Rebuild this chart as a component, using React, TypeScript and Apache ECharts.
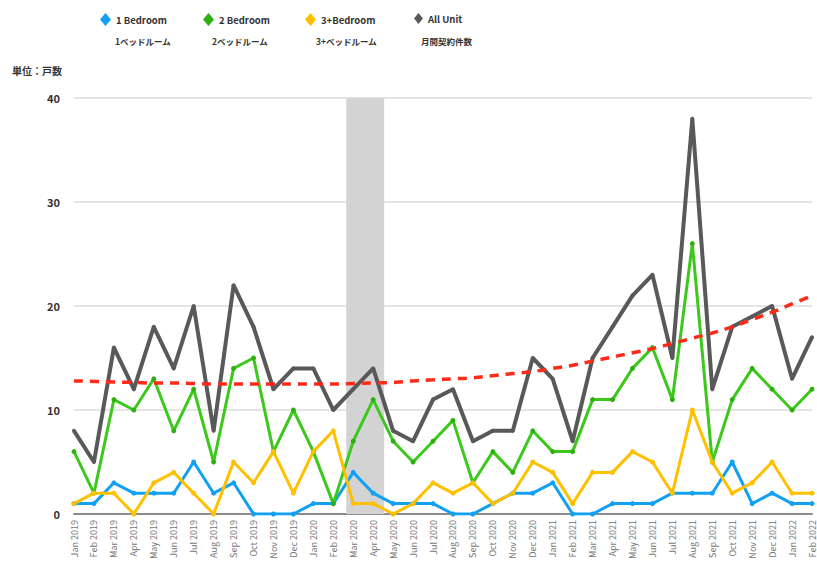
import React, { useEffect, useRef } from "react";
import * as echarts from "echarts";

const months = [
  "Jan 2019", "Feb 2019", "Mar 2019", "Apr 2019", "May 2019", "Jun 2019", "Jul 2019", "Aug 2019",
  "Sep 2019", "Oct 2019", "Nov 2019", "Dec 2019", "Jan 2020", "Feb 2020", "Mar 2020", "Apr 2020",
  "May 2020", "Jun 2020", "Jul 2020", "Aug 2020", "Sep 2020", "Oct 2020", "Nov 2020", "Dec 2020",
  "Jan 2021", "Feb 2021", "Mar 2021", "Apr 2021", "May 2021", "Jun 2021", "Jul 2021", "Aug 2021",
  "Sep 2021", "Oct 2021", "Nov 2021", "Dec 2021", "Jan 2022", "Feb 2022",
];

const oneBedroom = [1, 1, 3, 2, 2, 2, 5, 2, 3, 0, 0, 0, 1, 1, 4, 2, 1, 1, 1, 0, 0, 1, 2, 2, 3, 0, 0, 1, 1, 1, 2, 2, 2, 5, 1, 2, 1, 1];
const twoBedroom = [6, 2, 11, 10, 13, 8, 12, 5, 14, 15, 6, 10, 6, 1, 7, 11, 7, 5, 7, 9, 3, 6, 4, 8, 6, 6, 11, 11, 14, 16, 11, 26, 5, 11, 14, 12, 10, 12];
const threePlusBedroom = [1, 2, 2, 0, 3, 4, 2, 0, 5, 3, 6, 2, 6, 8, 1, 1, 0, 1, 3, 2, 3, 1, 2, 5, 4, 1, 4, 4, 6, 5, 2, 10, 5, 2, 3, 5, 2, 2];
const allUnit = [8, 5, 16, 12, 18, 14, 20, 8, 22, 18, 12, 14, 14, 10, 12, 14, 8, 7, 11, 12, 7, 8, 8, 15, 13, 7, 15, 18, 21, 23, 15, 38, 12, 18, 19, 20, 13, 17];
const trend = [12.8, 12.75, 12.7, 12.65, 12.6, 12.6, 12.55, 12.5, 12.5, 12.5, 12.5, 12.5, 12.5, 12.5, 12.55, 12.6, 12.65, 12.8, 12.9, 13.0, 13.1, 13.3, 13.5, 13.7, 14.0, 14.3, 14.7, 15.1, 15.5, 15.9, 16.4, 16.9, 17.4, 18.0, 18.7, 19.4, 20.2, 21.0];

const seriesNames = ["1 Bedroom", "2 Bedroom", "3+Bedroom", "All Unit"];
const seriesNamesJa = ["1ベッドルーム", "2ベッドルーム", "3+ベッドルーム", "月間契約件数"];
const bandRange = [13.65, 15.55];
const yTicks = { min: 0, max: 40, interval: 10 };

const FONT = "'Noto Sans CJK JP', 'Noto Sans', sans-serif";

export default function App() {
  const ref = useRef<HTMLDivElement>(null);
  useEffect(() => {
    if (!ref.current) return;
    const chart = echarts.init(ref.current, null, { renderer: "svg" });
    const colors = ["#12a0f2", "#3cc81c", "#ffc000", "#595959"];
    const legendLefts = [95, 198, 300, 409];
    const jaLefts = [115, 212, 316, 421];
    const option: any = {
      animation: false,
      legend: seriesNames.map((n, i) => ({
        data: [n],
        left: legendLefts[i],
        top: 8,
        icon: "diamond",
        itemWidth: i === 3 ? 9 : 11,
        itemHeight: i === 3 ? 11 : 13,
        itemGap: 5,
        textStyle: { fontFamily: FONT, fontSize: 9.5, fontWeight: "bold", color: "#333" },
      })),
      graphic: [
        ...seriesNamesJa.map((t, i) => ({
          type: "text",
          left: jaLefts[i],
          top: 37,
          style: { text: t, font: `bold 8.5px ${FONT}`, fill: "#333" },
        })),
        {
          type: "text",
          left: 12,
          top: 65,
          style: { text: "単位：戸数", font: `bold 10px ${FONT}`, fill: "#333" },
        },
      ],
      grid: { left: 74, right: 5, top: 98, bottom: 53, containLabel: false },
      xAxis: [
        {
          type: "category",
          data: months,
          boundaryGap: false,
          axisLine: { show: true, lineStyle: { color: "#8c8c8c", width: 2 } },
          axisTick: { show: false },
          axisLabel: {
            rotate: 90,
            interval: 0,
            fontSize: 9,
            color: "#777",
            fontFamily: FONT,
            margin: 6,
          },
        },
        {
          type: "value",
          min: 0,
          max: months.length - 1,
          show: false,
          position: "bottom",
        },
      ],
      yAxis: {
        type: "value",
        ...yTicks,
        axisLine: { show: false },
        axisTick: { show: false },
        axisLabel: { fontSize: 11, fontWeight: "bold", color: "#333", fontFamily: FONT, margin: 14 },
        splitLine: { lineStyle: { color: "#dddddd", width: 1.5 } },
      },
      series: [
        {
          type: "line",
          xAxisIndex: 1,
          data: [],
          z: 1,
          silent: true,
          markArea: {
            silent: true,
            itemStyle: { color: "#d3d3d3" },
            data: [[{ xAxis: bandRange[0] }, { xAxis: bandRange[1] }]],
          },
        },
        ...[oneBedroom, twoBedroom, threePlusBedroom, allUnit].map((d, i) => ({
          name: seriesNames[i],
          type: "line",
          data: d,
          z: i === 3 ? 3 : 4,
          symbol: "circle",
          symbolSize: i === 3 ? 4 : 5,
          showSymbol: true,
          lineStyle: { color: colors[i], width: i === 3 ? 4 : 3 },
          itemStyle: { color: i === 1 ? "#2fb012" : colors[i] },
        })),
        {
          name: "trend",
          type: "line",
          data: trend,
          z: 5,
          symbol: "none",
          smooth: true,
          lineStyle: { color: "#ff2a1a", width: 3.5, type: [9, 7] },
        },
      ],
    };
    chart.setOption(option);
    return () => chart.dispose();
  }, []);
  return (
    <div
      ref={ref}
      style={{ position: "absolute", left: 0, top: 0, width: 817, height: 567 }}
    />
  );
}
